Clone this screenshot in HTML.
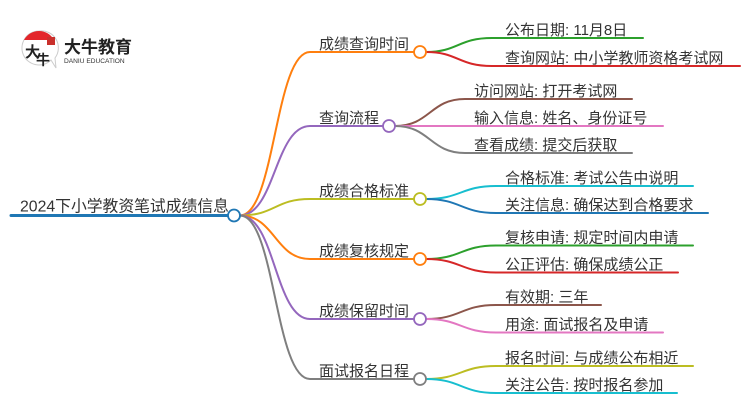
<!DOCTYPE html>
<html><head><meta charset="utf-8"><style>
html,body{margin:0;padding:0;background:#fff;}
svg{display:block;}
text{font-family:"Liberation Sans","Noto Sans CJK SC",sans-serif;fill:#333;}
</style></head><body>
<svg width="750" height="410" viewBox="0 0 750 410" xmlns="http://www.w3.org/2000/svg">
<!-- logo -->
<g>
  <path d="M39,31 a17,17 0 1,0 12,29 l5,8 l-1,-10 a17,17 0 0,0 -16,-27z" fill="#fff" stroke="#ccc" stroke-width="1"/>
  <path d="M24,40 A17,17 0 0,1 54,40 Z" fill="#e3262b"/>
  <rect x="47" y="37" width="8" height="8" fill="#c9302c"/>
  <text x="25" y="57" style="font-family:'Noto Sans CJK SC',sans-serif;font-size:15px;font-weight:bold;fill:#222;">大</text>
  <text x="36" y="65" style="font-family:'Noto Sans CJK SC',sans-serif;font-size:14px;font-weight:bold;fill:#222;">牛</text>
  <text x="64" y="53" style="font-size:17px;font-weight:bold;fill:#222;">大牛教育</text>
  <text x="64" y="63" style="font-size:6.6px;fill:#333;">DANIU EDUCATION</text>
</g>

<g fill="none" stroke-linecap="round">
<!-- root -->
<path d="M11,215.5 H228" stroke="#1f77b4" stroke-width="3"/>
<!-- branches -->
<path d="M240,215.5 C275,215.5 275,52 310,52 H414" stroke="#ff7f0e" stroke-width="2"/>
<path d="M240,215.5 C275,215.5 275,126 310,126 H383" stroke="#9467bd" stroke-width="2"/>
<path d="M240,215.5 C275,215.5 275,199 310,199 H414" stroke="#bcbd22" stroke-width="2"/>
<path d="M240,215.5 C275,215.5 275,259 310,259 H414" stroke="#ff7f0e" stroke-width="2"/>
<path d="M240,215.5 C275,215.5 275,319 310,319 H414" stroke="#9467bd" stroke-width="2"/>
<path d="M240,215.5 C275,215.5 275,379 310,379 H414" stroke="#7f7f7f" stroke-width="2"/>
<!-- leaves B1 -->
<path d="M426,52 C458,52 458,38 492,38 H643" stroke="#2ca02c" stroke-width="2"/>
<path d="M426,52 C458,52 458,66 492,66 H740" stroke="#d62728" stroke-width="2"/>
<!-- B2 -->
<path d="M395,126 C430,126 430,99 465,99 H632" stroke="#8c564b" stroke-width="2"/>
<path d="M395,126 H663" stroke="#e377c2" stroke-width="2"/>
<path d="M395,126 C430,126 430,153 465,153 H632" stroke="#7f7f7f" stroke-width="2"/>
<!-- B3 -->
<path d="M426,199 C461,199 461,186 496,186 H693" stroke="#17becf" stroke-width="2"/>
<path d="M426,199 C461,199 461,213 496,213 H708" stroke="#1f77b4" stroke-width="2"/>
<!-- B4 -->
<path d="M426,259 C461,259 461,245.5 496,245.5 H693" stroke="#2ca02c" stroke-width="2"/>
<path d="M426,259 C461,259 461,272.5 496,272.5 H678" stroke="#d62728" stroke-width="2"/>
<!-- B5 -->
<path d="M426,319 C461,319 461,305 496,305 H601" stroke="#8c564b" stroke-width="2"/>
<path d="M426,319 C461,319 461,332.5 496,332.5 H663" stroke="#e377c2" stroke-width="2"/>
<!-- B6 -->
<path d="M426,379 C461,379 461,366 496,366 H693" stroke="#bcbd22" stroke-width="2"/>
<path d="M426,379 C461,379 461,393 496,393 H677" stroke="#17becf" stroke-width="2"/>
</g>

<!-- circles -->
<g fill="#fff" stroke-width="1.8">
<circle cx="234" cy="215.5" r="6" stroke="#1f77b4"/>
<circle cx="420" cy="52" r="6" stroke="#ff7f0e"/>
<circle cx="389" cy="126" r="6" stroke="#9467bd"/>
<circle cx="420" cy="199" r="6" stroke="#bcbd22"/>
<circle cx="420" cy="259" r="6" stroke="#ff7f0e"/>
<circle cx="420" cy="319" r="6" stroke="#9467bd"/>
<circle cx="420" cy="379" r="6" stroke="#7f7f7f"/>
</g>

<!-- texts -->
<g style="font-size:15.8px;">
<text x="20" y="211.5">2024下小学教资笔试成绩信息</text>
</g>
<g style="font-size:15px;">
<text x="319" y="49">成绩查询时间</text>
<text x="319" y="123">查询流程</text>
<text x="319" y="196">成绩合格标准</text>
<text x="319" y="256">成绩复核规定</text>
<text x="319" y="316">成绩保留时间</text>
<text x="319" y="376">面试报名日程</text>

<text x="505" y="35">公布日期: 11月8日</text>
<text x="505" y="63">查询网站: 中小学教师资格考试网</text>
<text x="474" y="96">访问网站: 打开考试网</text>
<text x="474" y="123">输入信息: 姓名、身份证号</text>
<text x="474" y="150">查看成绩: 提交后获取</text>
<text x="505" y="183">合格标准: 考试公告中说明</text>
<text x="505" y="210">关注信息: 确保达到合格要求</text>
<text x="505" y="242.5">复核申请: 规定时间内申请</text>
<text x="505" y="269.5">公正评估: 确保成绩公正</text>
<text x="505" y="302">有效期: 三年</text>
<text x="505" y="329.5">用途: 面试报名及申请</text>
<text x="505" y="363">报名时间: 与成绩公布相近</text>
<text x="505" y="390">关注公告: 按时报名参加</text>
</g>
</svg>
</body></html>
